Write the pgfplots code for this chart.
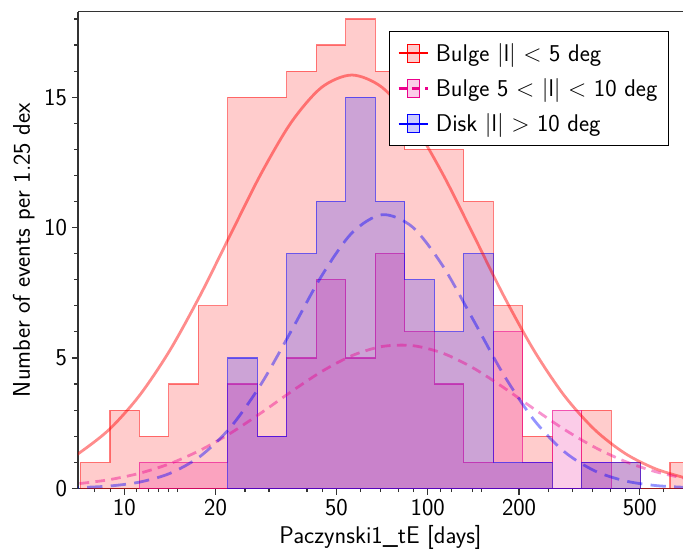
\documentclass[border=0pt]{standalone}
\usepackage{fontspec}
\usepackage{pgfplots}
\pgfplotsset{compat=1.18}

\newcommand{\lblfont}{\fontsize{17.4}{20}\selectfont\sffamily}

\begin{document}
\begin{tikzpicture}
\begin{axis}[
    at={(0,0)}, anchor=south west,
    scale only axis, width=435.6pt, height=343.2pt,
    xmode=log, xmin=7.04, xmax=694, ymin=0, ymax=18.28,
    axis y line*=left,
    xtick pos=bottom, tick align=outside,
    axis line style={black!80, line width=1pt},
    every tick/.style={black!80, line width=0.8pt},
    major tick length=4.5pt, minor tick length=2.8pt,
    xtick={10,20,50,100,200,500}, xticklabels={10,20,50,100,200,500},
    minor xtick={8,9,11,12,13,14,15,25,30,40,45,60,70,80,90,110,120,140,150,250,300,350,400,450,600},
    ytick={0,5,10,15}, yticklabels={0,5,10,15},
    minor ytick={1,2,3,4,6,7,8,9,11,12,13,14,16,17,18},
    ticklabel style={font=\lblfont},
    label style={font=\lblfont},
    xlabel={Paczynski1\_tE [days]},
    ylabel={Number of events per 1.25 dex},
    legend cell align=left,
    legend style={at={(0.977,0.960)}, anchor=north east, draw=black, line width=0.8pt,
        fill=white, font=\lblfont, row sep=7pt, inner xsep=6pt, inner ysep=6.5pt},
]

% histograms (bin edges in days, counts)
\addplot[const plot, forget plot, fill=red, fill opacity=0.2, draw=red, draw opacity=0.5, line width=0.8pt]
coordinates {(7.171,0) (7.171,1) (8.971,3) (11.22,2) (14.03,4) (17.55,7) (21.95,15) (27.45,15)
 (34.34,16) (42.95,17) (53.70,18) (67.16,16) (84.02,13) (105.1,13) (131.4,11) (164.3,7)
 (205.6,2) (257.0,0) (321.5,3) (402.1,1) (502.9,0) (628.9,1) (786.6,0)} -- cycle;

\addplot[const plot, forget plot, fill=magenta, fill opacity=0.2, draw=magenta, draw opacity=0.6, line width=0.8pt]
coordinates {(11.22,0) (11.22,1) (14.03,1) (17.55,1) (21.95,4) (27.45,2) (34.34,5) (42.95,8)
 (53.70,5) (67.16,9) (84.02,6) (105.1,4) (131.4,1) (164.3,6) (205.6,1) (257.0,3)
 (321.5,1) (402.1,0)} -- cycle;

\addplot[const plot, forget plot, fill=blue, fill opacity=0.2, draw=blue, draw opacity=0.55, line width=0.8pt]
coordinates {(21.95,0) (21.95,5) (27.45,2) (34.34,9) (42.95,11) (53.70,15) (67.16,11) (84.02,8)
 (105.1,6) (131.4,9) (164.3,1) (205.6,1) (257.0,0) (321.5,1) (402.1,1) (502.9,0)} -- cycle;

% fitted curves
\addplot[forget plot, smooth, red, opacity=0.45, line width=2pt]
coordinates {(6.310,1.013) (7.079,1.341) (8.913,2.252) (11.22,3.558) (14.13,5.289) (17.78,7.396)
 (22.39,9.732) (28.18,12.046) (35.48,14.031) (44.67,15.374) (56.23,15.85) (70.79,15.374)
 (89.13,14.031) (112.2,12.046) (141.3,9.732) (177.8,7.396) (223.9,5.289) (281.8,3.558)
 (354.8,2.252) (446.7,1.341) (562.3,0.752) (707.9,0.396)};

\addplot[forget plot, smooth, magenta, opacity=0.42, line width=2pt, dash pattern=on 7pt off 4.5pt]
coordinates {(6.310,0.129) (7.079,0.179) (8.913,0.331) (11.22,0.577) (14.13,0.945) (17.78,1.458)
 (22.39,2.114) (28.18,2.885) (35.48,3.705) (44.67,4.476) (56.23,5.087) (70.79,5.440)
 (89.13,5.473) (112.2,5.181) (141.3,4.614) (177.8,3.866) (223.9,3.048) (281.8,2.261)
 (354.8,1.577) (446.7,1.035) (562.3,0.640) (707.9,0.372)};

\addplot[forget plot, smooth, blue, opacity=0.42, line width=2pt, dash pattern=on 11pt off 6pt]
coordinates {(6.310,0.016) (7.079,0.029) (8.913,0.088) (11.22,0.238) (14.13,0.572) (17.78,1.225)
 (22.39,2.339) (28.18,3.978) (35.48,6.029) (44.67,8.140) (56.23,9.791) (70.79,10.494)
 (89.13,10.020) (112.2,8.525) (141.3,6.461) (177.8,4.363) (223.9,2.625) (281.8,1.407)
 (354.8,0.672) (446.7,0.286) (562.3,0.108) (707.9,0.037)};

% legend
\addlegendimage{legend image code/.code={
    \fill[red, fill opacity=0.2] (6.25pt,-6.5pt) rectangle (14.75pt,6.5pt);
    \draw[red, opacity=0.5, line width=0.6pt] (6.25pt,-6.5pt) rectangle (14.75pt,6.5pt);
    \draw[red, line width=1.5pt] (0pt,0pt) -- (21pt,0pt);}}
\addlegendentry{\hspace{3pt}Bulge $|$l$|$ $<$ 5 deg}
\addlegendimage{legend image code/.code={
    \fill[magenta, fill opacity=0.2] (6.25pt,-6.5pt) rectangle (14.75pt,6.5pt);
    \draw[magenta, opacity=0.5, line width=0.6pt] (6.25pt,-6.5pt) rectangle (14.75pt,6.5pt);
    \draw[magenta, line width=1.5pt, dash pattern=on 6pt off 3.5pt] (0pt,0pt) -- (21pt,0pt);}}
\addlegendentry{\hspace{3pt}Bulge 5 $<$ $|$l$|$ $<$ 10 deg}
\addlegendimage{legend image code/.code={
    \fill[blue, fill opacity=0.2] (6.25pt,-6.5pt) rectangle (14.75pt,6.5pt);
    \draw[blue, opacity=0.5, line width=0.6pt] (6.25pt,-6.5pt) rectangle (14.75pt,6.5pt);
    \draw[blue, line width=1.5pt] (0pt,0pt) -- (21pt,0pt);}}
\addlegendentry{\hspace{3pt}Disk $|$l$|$ $>$ 10 deg}
\end{axis}
\pgfresetboundingbox
\path[use as bounding box] (-56.16pt,-44.42pt) rectangle (435.6pt,351.6pt);
\end{tikzpicture}
\end{document}
